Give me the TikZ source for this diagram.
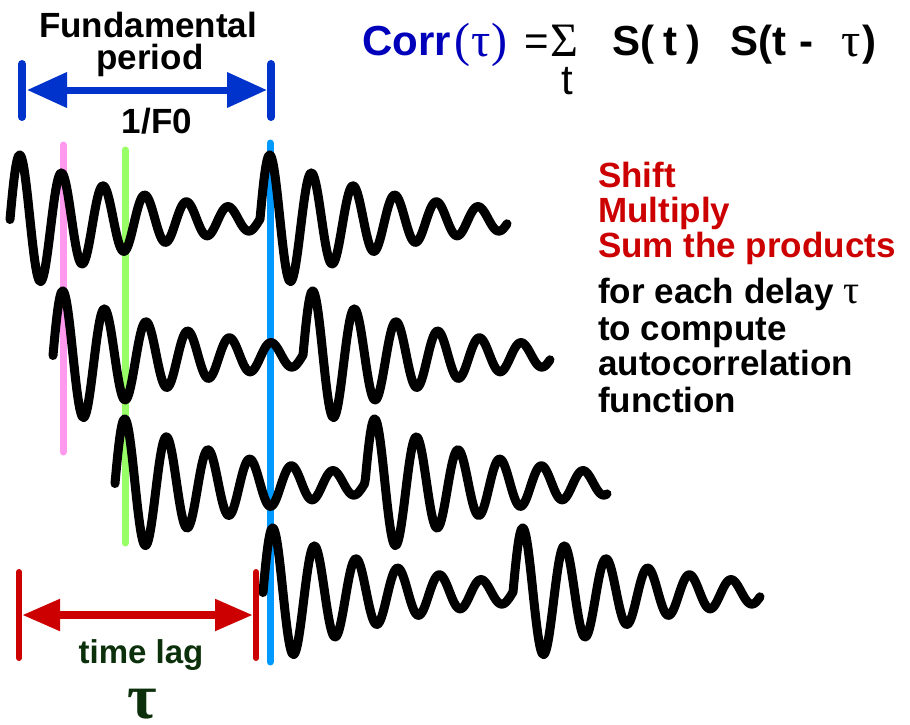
\documentclass[tikz,border=0pt]{standalone}
\usepackage{fontspec}
\setmainfont{Liberation Sans}
\newfontfamily\serifgr{Liberation Serif}
\usepackage{tikz}
\usetikzlibrary{arrows.meta}
\usepackage{xcolor}

\definecolor{periodblue}{HTML}{0033CC}
\definecolor{corrblue}{HTML}{0000BB}
\definecolor{lagred}{HTML}{CC0000}
\definecolor{laggreen}{HTML}{0B300B}
\definecolor{pinkln}{HTML}{FF99EE}
\definecolor{greenln}{HTML}{99FF66}
\definecolor{blueln}{HTML}{0099FF}
\newcommand{\fsz}[1]{\fontsize{#1}{#1}\selectfont}

\tikzset{
  wave/.style={line width=9pt, line cap=round, line join=round},
  lagline/.style={line width=7pt, line cap=round},
  endbar/.style={line cap=round},
  lbl/.style={inner sep=0pt, font=\bfseries\fsz{35}},
  frm/.style={inner sep=0pt, anchor=base west},
  declare function={sig(\u)=exp(-0.00788*\u)*(cos(8.64*\u)-0.075*(1-cos(8.64*\u)));
                    uu(\s)=mod(\s+10,250)-10;}
}

\begin{document}
\begin{tikzpicture}[x=1pt,y=-1pt]
  \useasboundingbox (0,0) rectangle (910,725);
  % lag markers, behind the waves
  \draw[lagline, pinkln] (63,145) -- (63,452);
  \draw[lagline, greenln] (125,150) -- (125,543);
  \draw[lagline, blueln] (270,143) -- (270,662);
  % shifted copies of the signal
  \foreach \xo/\c/\xe in {20/219/487, 63/355/487, 125/483/482, 273/592/487}
    \draw[wave] plot[domain=-10:\xe, samples=500] ({\xo+\x}, {\c-64*sig(uu(\x))});

  % fundamental period
  \draw[endbar, periodblue, line width=8pt] (22,64) -- (22,117);
  \draw[endbar, periodblue, line width=8pt] (271,64) -- (271,117);
  \coordinate (fpL) at (27,90);
  \coordinate (fpR) at (267,90);
  \draw[periodblue, line width=7pt,
    {Triangle[length=40pt,width=34pt]}-{Triangle[length=40pt,width=34pt]}] (fpL) -- (fpR);
  \node[lbl, anchor=base] (fund) at (148,38) {Fundamental};
  \node[lbl, anchor=base] (per) at (150,70) {period};
  \node[lbl, anchor=base] (fzero) at (157,133) {1/F0};

  % time lag
  \draw[endbar, lagred, line width=6pt] (19,572) -- (19,658);
  \draw[endbar, lagred, line width=6pt] (256,572) -- (256,658);
  \coordinate (lagL) at (22,615);
  \coordinate (lagR) at (253,615);
  \draw[lagred, line width=8pt,
    {Triangle[length=38pt,width=30pt]}-{Triangle[length=38pt,width=30pt]}] (lagL) -- (lagR);
  \node[lbl, laggreen, anchor=base, font=\bfseries\fsz{33}] (lag) at (141,663) {time lag};
  \node[inner sep=0pt, text depth=0pt, laggreen, anchor=base, font=\serifgr\bfseries\fsz{64}] (tau) at (142,718) {τ};

  % formula
  \node[frm, corrblue, font=\bfseries\fsz{42}] (corr) at (362,56) {Corr};
  \node[frm, corrblue, font=\serifgr\fsz{48}] (corrtau) at (454,57) {(\kern1pt τ\kern1pt)};
  \node[frm, font=\fsz{42}] (eq) at (524,56) {=};
  \node[frm, text depth=0pt, font=\serifgr\fsz{48}] (sum) at (550,57) {Σ};
  \node[frm, font=\fsz{42}] (sumt) at (561,94) {t};
  \node[frm, font=\bfseries\fsz{42}] (sa) at (612,56) {S(};
  \node[frm, font=\bfseries\fsz{42}] (ta) at (663,56) {t};
  \node[frm, font=\bfseries\fsz{42}] (ca) at (686,56) {)};
  \node[frm, font=\bfseries\fsz{42}] (sb) at (730,56) {S(};
  \node[frm, font=\bfseries\fsz{42}] (tb) at (772,56) {t};
  \node[frm, font=\bfseries\fsz{42}] (mb) at (799,56) {-};
  \node[frm, font=\serifgr\fsz{48}] (taub) at (841,57) {τ};
  \node[frm, font=\bfseries\fsz{42}] (cb) at (862,56) {)};

  % recipe
  \foreach \txt/\yb [count=\i] in {Shift/187, Multiply/222, Sum the products/257}
    \node[lbl, lagred, anchor=base west] (red\i) at (598,\yb) {\txt};
  \foreach \txt/\yb [count=\i] in {{for each delay {\serifgr\mdseries\fsz{40}τ}}/303,
      to compute/340, autocorrelation/375, function/412}
    \node[lbl, anchor=base west] (blk\i) at (598,\yb) {\txt};
\end{tikzpicture}
\end{document}
